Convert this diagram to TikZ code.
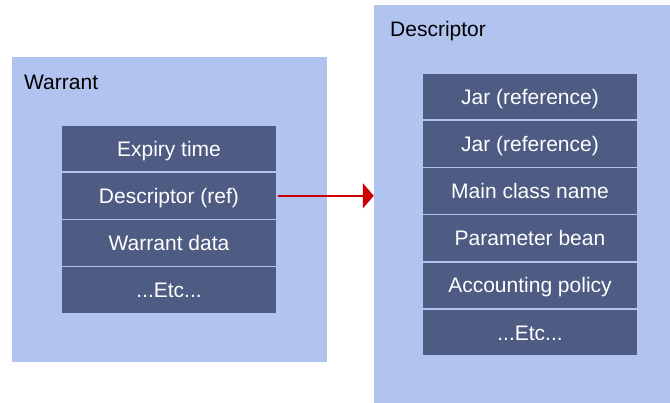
\documentclass[tikz,border=0pt]{standalone}
\usepackage{fontspec}
\setmainfont{Liberation Sans}
\usetikzlibrary{arrows.meta}

\definecolor{panelblue}{HTML}{B1C3EF}
\definecolor{slotblue}{HTML}{4E5B82}
\definecolor{arrowred}{HTML}{CC0000}

\begin{document}
\begin{tikzpicture}[x=1pt,y=-1pt,
  panel/.style={fill=panelblue,draw=none,inner sep=0pt},
  slot/.style={fill=slotblue,draw=panelblue,line width=1.5pt,text=white,
    minimum width=216pt,minimum height=47.2pt,inner sep=0pt,
    text height=15pt,text depth=0pt,font=\fontsize{21}{23}\selectfont},
  title/.style={anchor=west,inner sep=0pt,font=\fontsize{21}{23}\selectfont}]
  \useasboundingbox (0,0) rectangle (670,403);
  % the two containers
  \node[panel,minimum width=315pt,minimum height=305pt] (warrant) at (169.5,209.5) {};
  \node[panel,minimum width=296pt,minimum height=398pt] (descriptor) at (522,204) {};
  \node[title] (wtitle) at (24,82) {Warrant};
  \node[title] (dtitle) at (390,31) {Descriptor};
  % warrant fields
  \foreach \i/\t in {1/Expiry time,2/Descriptor (ref),3/Warrant data,4/{...Etc...}}
    \node[slot] (w\i) at (169,{148.6+47.2*(\i-1)}) {\t};
  % descriptor fields
  \foreach \i/\t in {1/Jar (reference),2/Jar (reference),3/Main class name,4/Parameter bean,5/Accounting policy,6/{...Etc...}}
    \node[slot] (d\i) at (530,{96.6+47.2*(\i-1)}) {\t};
  \draw[arrowred,line width=2pt,-{Triangle[length=11pt,width=25pt]}] (w2.east) -- (w2.east -| descriptor.west);
\end{tikzpicture}
\end{document}
